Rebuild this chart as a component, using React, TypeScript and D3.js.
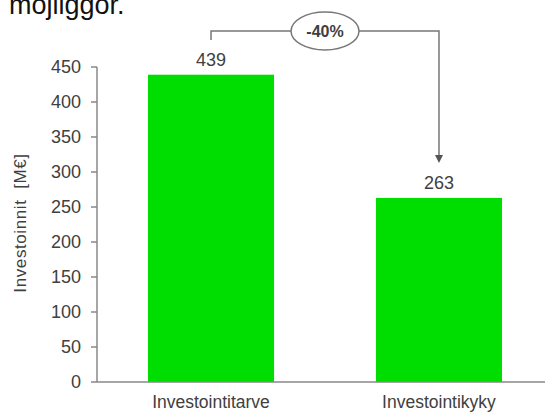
import React from "react";
import * as d3 from "d3";

const categories = ["Investointitarve", "Investointikyky"];
const values = [439, 263];
const yTicks = [0, 50, 100, 150, 200, 250, 300, 350, 400, 450];
const changeLabel = "-40%";
const yTitle = "Investoinnit  [M€]";
const headerText = "möjliggör.";

const W = 545;
const H = 412;
const GREEN = "#00DD00";
const TEXT = "#404040";
const AXIS = "#888888";
const FONT = "'Liberation Sans', Arial, sans-serif";

export default function App() {
  const x = d3
    .scaleBand<string>()
    .domain(categories)
    .range([97, 553])
    .paddingInner(0.447)
    .paddingOuter(0.2237);
  const y = d3.scaleLinear().domain([0, 450]).range([382, 67]);

  const cx0 = (x(categories[0]) ?? 0) + x.bandwidth() / 2;
  const cx1 = (x(categories[1]) ?? 0) + x.bandwidth() / 2;
  const bracketY = 31;
  const midX = (cx0 + cx1) / 2;
  const arrowTip = y(values[1]) - 35;

  return (
    <svg
      width={W}
      height={H}
      style={{ position: "absolute", left: 0, top: 0, display: "block" }}
      fontFamily={FONT}
    >
      <rect width={W} height={H} fill="#fff" />
      <text x={9} y={14} fontSize={27} fill="#111">
        {headerText}
      </text>

      {/* bars */}
      {categories.map((c, i) => (
        <rect
          key={c}
          x={x(c)}
          y={y(values[i])}
          width={x.bandwidth()}
          height={y(0) - y(values[i])}
          fill={GREEN}
        />
      ))}

      {/* value labels */}
      {categories.map((c, i) => (
        <text
          key={c + "v"}
          x={(x(c) ?? 0) + x.bandwidth() / 2}
          y={y(values[i]) - 9}
          textAnchor="middle"
          fontSize={18}
          fill={TEXT}
        >
          {values[i]}
        </text>
      ))}

      {/* y axis */}
      <line x1={97} x2={97} y1={y(450)} y2={y(0)} stroke={AXIS} strokeWidth={1.5} />
      {yTicks.map((t) => (
        <g key={t}>
          <line x1={91} x2={97} y1={y(t)} y2={y(t)} stroke={AXIS} strokeWidth={1.5} />
          <text
            x={81}
            y={y(t)}
            dy="0.36em"
            textAnchor="end"
            fontSize={18}
            fill={TEXT}
          >
            {t}
          </text>
        </g>
      ))}

      {/* x axis */}
      <line x1={97} x2={W} y1={y(0)} y2={y(0)} stroke={AXIS} strokeWidth={1.5} />
      {categories.map((c) => (
        <text
          key={c + "l"}
          x={(x(c) ?? 0) + x.bandwidth() / 2}
          y={408}
          textAnchor="middle"
          fontSize={17.5}
          fill={TEXT}
        >
          {c}
        </text>
      ))}

      {/* y title */}
      <text
        transform={`translate(26, 223) rotate(-90)`}
        textAnchor="middle"
        fontSize={17}
        letterSpacing={0.6}
        fill={TEXT}
        style={{ whiteSpace: "pre" }}
      >
        {yTitle}
      </text>

      {/* bracket */}
      <path
        d={`M${cx0},40 V${bracketY} H${cx1} V${arrowTip - 7}`}
        fill="none"
        stroke="#777"
        strokeWidth={1.5}
      />
      <path
        d={`M${cx1 - 4},${arrowTip - 8} L${cx1 + 4},${arrowTip - 8} L${cx1},${arrowTip} Z`}
        fill="#555"
      />
      <ellipse cx={midX} cy={bracketY} rx={34} ry={19} fill="#fff" stroke="#777" strokeWidth={1.5} />
      <text
        x={midX}
        y={bracketY}
        dy="0.36em"
        textAnchor="middle"
        fontSize={16}
        fontWeight="bold"
        fill={TEXT}
      >
        {changeLabel}
      </text>
    </svg>
  );
}
